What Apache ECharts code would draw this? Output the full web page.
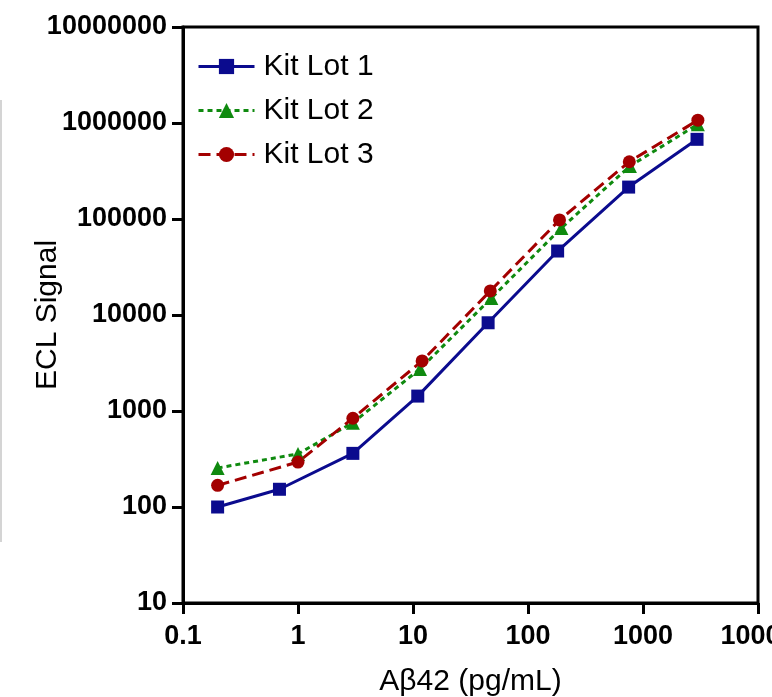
<!DOCTYPE html>
<html>
<head>
<meta charset="utf-8">
<script src="https://cdn.jsdelivr.net/npm/echarts@6/dist/echarts.min.js"></script>
<style>
  html, body { margin: 0; padding: 0; background: #fff; }
  #chart { width: 772px; height: 697px; }
</style>
</head>
<body>
<div id="chart"></div>
<script>
// 数据
var lotNames = ['Kit Lot 1', 'Kit Lot 2', 'Kit Lot 3'];
var conc1 = [0.2, 0.69, 3.0, 11, 45, 181, 750, 2950];
var signal1 = [100, 153, 362, 1430, 8300, 46400, 215000, 676000];
var conc2 = [0.2, 1.0, 3.0, 11.5, 48, 195, 770, 3000];
var signal2 = [255, 357, 755, 2740, 15000, 80600, 356000, 970000];
var conc3 = [0.2, 1.0, 3.0, 12, 47, 188, 760, 3000];
var signal3 = [168, 294, 840, 3320, 17800, 97700, 395000, 1070000];
var colors = ['#0b0b8e', '#0f8a0f', '#a30000'];
var dashes = ['solid', [5, 4], [12, 6]];

function pairs(xs, ys) {
  return xs.map(function (x, i) { return [x, ys[i]]; });
}

function fmt(v) {
  return String(+(+v).toPrecision(6));
}

var myChart = echarts.init(document.getElementById('chart'));

var axisCommon = {
  type: 'log',
  logBase: 10,
  axisLine: { show: true, lineStyle: { color: '#000', width: 3 } },
  axisTick: { show: true, inside: false, length: 11, lineStyle: { color: '#000', width: 3 } },
  minorTick: { show: false },
  splitLine: { show: false },
  axisLabel: {
    color: '#000', fontFamily: 'Liberation Sans, Arial', fontWeight: 'bold', fontSize: 27,
    formatter: fmt
  },
  nameLocation: 'middle',
  nameTextStyle: { color: '#000', fontFamily: 'Liberation Sans, Arial', fontSize: 30 }
};

var option = {
  animation: false,
  backgroundColor: '#fff',
  grid: {
    left: 183, right: 14, top: 27, bottom: 94,
    containLabel: false,
    outerBoundsMode: 'none',
    show: true, borderColor: '#000', borderWidth: 3
  },
  graphic: [{
    type: 'rect', left: 0, top: 100,
    shape: { width: 2, height: 442 },
    style: { fill: '#d4d4d4' }
  }],
  legend: {
    orient: 'vertical',
    left: 192, top: 46,
    itemWidth: 56, itemHeight: 19, itemGap: 13,
    textStyle: {
      color: '#000', fontFamily: 'Liberation Sans, Arial', fontSize: 30, lineHeight: 31,
      padding: [0, 0, 0, 4]
    },
    data: lotNames.map(function (n, i) {
      return { name: n, lineStyle: { width: 3, color: colors[i], type: dashes[i] } };
    })
  },
  xAxis: Object.assign({}, axisCommon, {
    min: 0.1, max: 10000,
    name: 'Aβ42 (pg/mL)', nameGap: 64,
    axisLabel: Object.assign({}, axisCommon.axisLabel, { margin: 20 })
  }),
  yAxis: Object.assign({}, axisCommon, {
    min: 10, max: 10000000,
    name: 'ECL Signal', nameGap: 120,
    nameMoveOverlap: false,
    axisLabel: Object.assign({}, axisCommon.axisLabel, { margin: 16 })
  }),
  series: [
    {
      name: lotNames[0], type: 'line', data: pairs(conc1, signal1),
      symbol: 'rect', symbolSize: 13,
      lineStyle: { color: colors[0], width: 3, type: dashes[0] },
      itemStyle: { color: colors[0] }
    },
    {
      name: lotNames[1], type: 'line', data: pairs(conc2, signal2),
      symbol: 'triangle', symbolSize: 14,
      lineStyle: { color: colors[1], width: 3, type: dashes[1] },
      itemStyle: { color: colors[1] }
    },
    {
      name: lotNames[2], type: 'line', data: pairs(conc3, signal3),
      symbol: 'circle', symbolSize: 13,
      lineStyle: { color: colors[2], width: 3, type: dashes[2] },
      itemStyle: { color: colors[2] }
    }
  ]
};

myChart.setOption(option);
</script>
</body>
</html>
